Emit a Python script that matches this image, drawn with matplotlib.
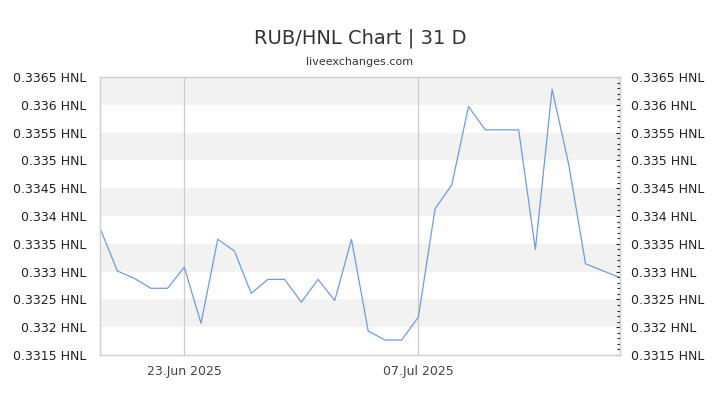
import numpy as np
import pandas as pd
import matplotlib
matplotlib.use("Agg")
import matplotlib.pyplot as plt
from matplotlib.ticker import FuncFormatter, MultipleLocator, AutoMinorLocator
import matplotlib.dates as mdates

# dzienne kursy RUB/HNL
dates = pd.date_range("2025-06-18", periods=32, freq="D")
rates = [0.33375, 0.33301, 0.33288, 0.33270, 0.33270, 0.33308, 0.33207, 0.33358,
         0.33337, 0.33261, 0.33286, 0.33286, 0.33245, 0.33286, 0.33248, 0.33358,
         0.33193, 0.33177, 0.33177, 0.33218, 0.33413, 0.33456, 0.33597, 0.33555,
         0.33555, 0.33555, 0.33340, 0.33628, 0.33492, 0.33314, 0.33302, 0.33290]
xticks = ["2025-06-23", "2025-07-07"]

y_lo, y_hi, step = 0.3315, 0.3365, 0.0005

fig = plt.figure(figsize=(7.2, 4.05), dpi=100)
ax = fig.add_axes([100 / 720, 1 - 355 / 405, 520 / 720, 278 / 405])

# szare pasy co drugi przedział
for lo in np.arange(0.332, y_hi - 1e-9, 2 * step):
    ax.axhspan(lo, lo + step, color="#f2f2f2", lw=0, zorder=0)

for d in xticks:
    ax.axvline(pd.Timestamp(d), color="#cccccc", lw=0.9, zorder=1)

ax.plot(dates, rates, color="#6f9be8", lw=0.9, zorder=3)

ax.set_ylim(y_lo, y_hi)
ax.set_xlim(dates[0] - pd.Timedelta(hours=1), dates[-1] + pd.Timedelta(hours=1.5))

fmt = FuncFormatter(lambda v, p: f"{v:.4f}".rstrip("0") + " HNL")
ax.yaxis.set_major_locator(MultipleLocator(step))
ax.yaxis.set_major_formatter(fmt)
ax.tick_params(axis="y", length=0, labelsize=9, colors="#222222", pad=10)

ax2 = ax.twinx()
ax2.set_ylim(y_lo, y_hi)
ax2.yaxis.set_major_locator(MultipleLocator(step))
ax2.yaxis.set_minor_locator(AutoMinorLocator(5))
ax2.yaxis.set_major_formatter(fmt)
ax2.tick_params(axis="y", which="major", direction="in", length=3, width=0.8,
                colors="#222222", labelsize=9, pad=8)
ax2.tick_params(axis="y", which="minor", direction="in", length=2, width=0.8, color="#222222")

ax.set_xticks([pd.Timestamp(d) for d in xticks])
ax.xaxis.set_major_formatter(mdates.DateFormatter("%d.%b %Y"))
ax.tick_params(axis="x", length=0, labelsize=9, colors="#444444", pad=7)

for a in (ax, ax2):
    for s in a.spines.values():
        s.set_color("#d0d0d0")
        s.set_linewidth(0.9)

fig.text(0.5, 1 - 38 / 405, "RUB/HNL Chart | 31 D", ha="center", va="center",
         fontsize=14, color="#333333")
fig.text(0.5, 1 - 62 / 405, "liveexchanges.com", ha="center", va="center",
         fontsize=8, color="#333333")

fig.savefig("out.png", dpi=100)
